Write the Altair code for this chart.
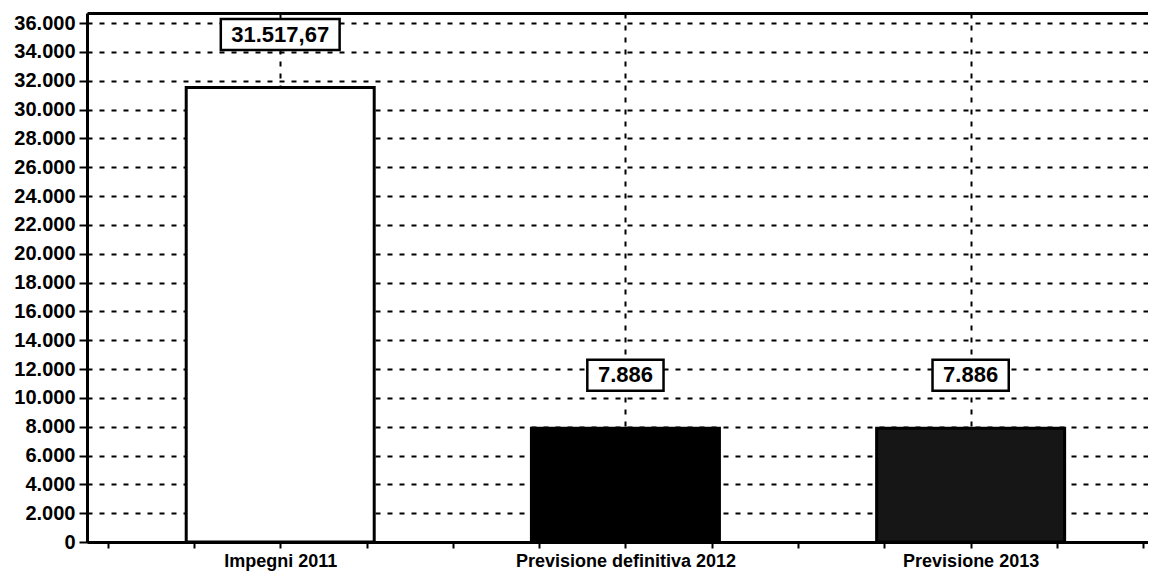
import altair as alt
import pandas as pd

# ---- data ----
categories = ["Impegni 2011", "Previsione definitiva 2012", "Previsione 2013"]
values = [31517.67, 7886, 7886]
value_labels = ["31.517,67", "7.886", "7.886"]
bar_fills = ["#ffffff", "#000000", "#161616"]
y_ticks = list(range(0, 36001, 2000))

FONT = "Liberation Sans"

df = pd.DataFrame({
    "cat": categories,
    "value": values,
    "label": value_labels,
    "pos": [i + 0.5 for i in range(len(categories))],
})

x_ticks = [i * 0.25 for i in range(4 * len(categories) + 1)]
label_expr = "".join(
    f"datum.value == {i + 0.5} ? '{c}' : " for i, c in enumerate(categories)
) + "''"
center_test = "datum.value % 1 == 0.5"

x_scale = alt.Scale(domain=[-0.0452, 2.9993], nice=False, zero=False)
y_scale = alt.Scale(domain=[0, 36694], nice=False, zero=True)

x_axis = alt.Axis(
    values=x_ticks,
    labelExpr=label_expr,
    labelOverlap=False,
    labelLimit=600,
    labelAngle=0,
    labelFont=FONT,
    labelFontSize=18,
    labelFontWeight="bold",
    labelColor="black",
    labelPadding=4,
    grid=True,
    gridColor="black",
    gridWidth=2,
    gridDash=[5, 7],
    gridOpacity={"condition": {"test": center_test, "value": 1}, "value": 0},
    tickColor="black",
    tickWidth=2,
    tickSize=6,
    domainColor="black",
    domainWidth=3,
    title=None,
)

y_axis = alt.Axis(
    values=y_ticks,
    labelExpr="replace(format(datum.value, ','), ',', '.')",
    labelOverlap=False,
    labelFont=FONT,
    labelFontSize=20,
    labelFontWeight="bold",
    labelColor="black",
    labelPadding=4,
    grid=True,
    gridColor="black",
    gridWidth=2,
    gridDash=[5, 7],
    tickColor="black",
    tickWidth=2,
    tickSize=8,
    domainColor="black",
    domainWidth=3,
    title=None,
)

base = alt.Chart(df)

bars = base.mark_bar(size=188, stroke="black", strokeWidth=3).encode(
    x=alt.X("pos:Q", scale=x_scale, axis=x_axis),
    y=alt.Y("value:Q", scale=y_scale, axis=y_axis, stack=None),
    color=alt.Color("cat:N", scale=alt.Scale(domain=categories, range=bar_fills), legend=None),
)

boxes = base.transform_calculate(
    half="(11.6 + 5.375 * length(datum.label)) / 348.5"
).transform_calculate(
    x_lo="datum.pos - datum.half", x_hi="datum.pos + datum.half"
).mark_rect(
    fill="white", stroke="black", strokeWidth=2.5, yOffset=-68.5, y2Offset=-37.5
).encode(
    x=alt.X("x_lo:Q", scale=x_scale, axis=None),
    x2="x_hi:Q",
    y=alt.Y("value:Q", scale=y_scale, axis=y_axis),
    y2="value:Q",
)

texts = base.mark_text(
    dy=-53, font=FONT, fontSize=22, fontWeight="bold", color="black", baseline="middle"
).encode(
    x=alt.X("pos:Q", scale=x_scale, axis=alt.Axis(
        orient="top", labels=False, ticks=False, grid=False,
        domainColor="black", domainWidth=3, title=None)),
    y=alt.Y("value:Q", scale=y_scale, axis=y_axis),
    text="label:N",
)

chart = alt.layer(bars, boxes, texts).resolve_axis(x="independent").properties(
    width=1061,
    height=529,
    autosize=alt.AutoSizeParams(type="none"),
    padding={"left": 79, "top": 5, "right": 0, "bottom": 32},
).configure_view(stroke=None).configure(background="white")

chart.save("out.html", embed_options={"renderer": "svg", "actions": False})
